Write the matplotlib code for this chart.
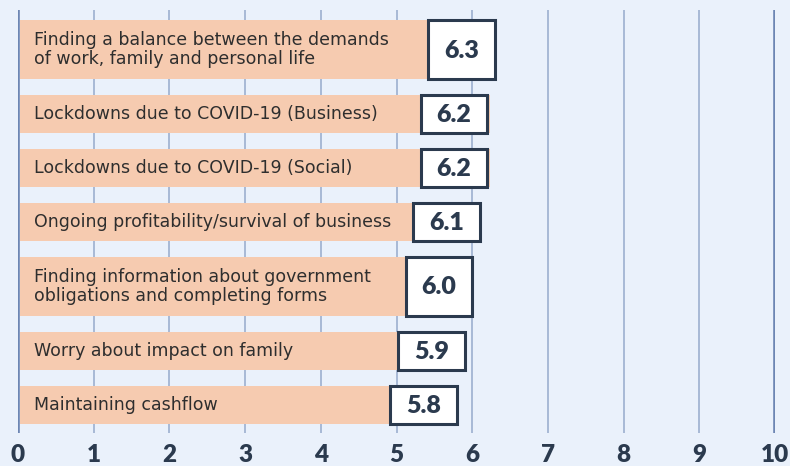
import matplotlib.pyplot as plt
from matplotlib.patches import Rectangle

labels = [
    "Finding a balance between the demands\nof work, family and personal life",
    "Lockdowns due to COVID-19 (Business)",
    "Lockdowns due to COVID-19 (Social)",
    "Ongoing profitability/survival of business",
    "Finding information about government\nobligations and completing forms",
    "Worry about impact on family",
    "Maintaining cashflow",
]
values = [6.3, 6.2, 6.2, 6.1, 6.0, 5.9, 5.8]
ticks = list(range(0, 11))

bg = "#eaf1fb"
bar_col = "#f6cbb0"
dark = "#2b3a4e"
grid_col = "#a3b5d3"

# layout in pixel units: single-line bar 38, two-line bar 59, gap 16
centers, heights = [], []
y = 10
for lab in labels:
    h = 38 + 21 * lab.count("\n")
    centers.append(y + h / 2)
    heights.append(h)
    y += h + 16

fig = plt.figure(figsize=(7.9, 4.66), dpi=100, facecolor=bg)
ax = fig.add_axes([18 / 790, 33 / 466, 757 / 790, 423 / 466])
ax.set_facecolor(bg)

for t in ticks:
    if t in (0, 10):
        ax.axvline(t, color="#6d86b3", lw=2.6, zorder=3)
    else:
        ax.axvline(t, color=grid_col, lw=1.3, zorder=0)

box_w = 0.88
ax.barh(centers, values, height=heights, left=0.03, color=bar_col, zorder=1)
for c, h, v, lab in zip(centers, heights, values, labels):
    ax.add_patch(Rectangle((v - box_w, c - h / 2), box_w, h, facecolor="white",
                           edgecolor=dark, lw=2.2, zorder=4))
    ax.text(v - box_w / 2, c + 1, f"{v:.1f}", ha="center", va="center",
            fontsize=18, fontweight="heavy", color=dark, family="Lato", zorder=5)
    ax.text(0.21, c, lab, ha="left", va="center", fontsize=12.5, color="#2e2e2e",
            family="DejaVu Sans", linespacing=1.1, zorder=5)

ax.set_xlim(0, 10)
ax.set_ylim(423, 0)
ax.set_xticks(ticks)
ax.set_yticks([])
ax.tick_params(axis="x", length=0, pad=8)
for lbl in ax.get_xticklabels():
    lbl.set_fontsize(17.5)
    lbl.set_fontweight("heavy")
    lbl.set_color(dark)
    lbl.set_family("Lato")
for s in ax.spines.values():
    s.set_visible(False)

fig.savefig("out.png", dpi=100, facecolor=bg)
